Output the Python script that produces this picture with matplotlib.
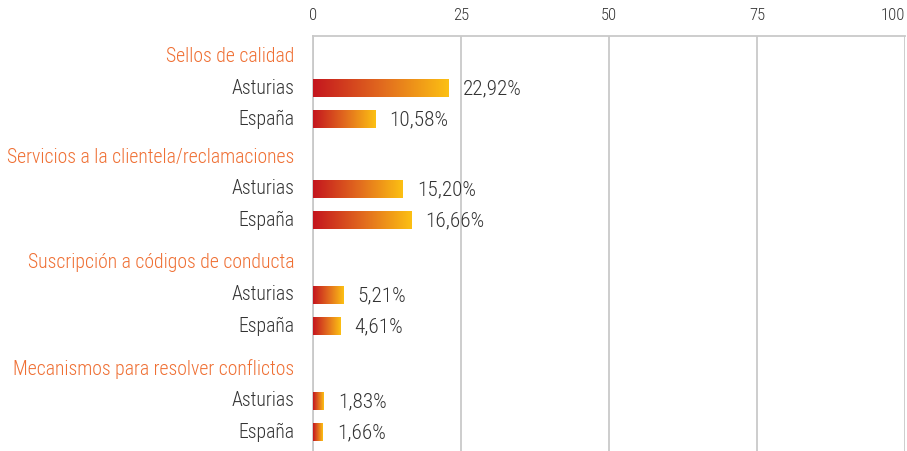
import numpy as np
import matplotlib
matplotlib.use("Agg")
import matplotlib.pyplot as plt
from matplotlib.colors import LinearSegmentedColormap

categories = [
    "Sellos de calidad",
    "Servicios a la clientela/reclamaciones",
    "Suscripción a códigos de conducta",
    "Mecanismos para resolver conflictos",
]
regions = ["Asturias", "España"]
asturias = [22.92, 15.20, 5.21, 1.83]
espana = [10.58, 16.66, 4.61, 1.66]
xticks = [0, 25, 50, 75, 100]

plt.rcParams["font.family"] = ["Roboto Condensed", "DejaVu Sans"]
plt.rcParams["font.weight"] = "light"

grey_text = "#333333"
orange_text = "#ef6f33"
grid_col = "#c9c9c9"
bar_cmap = LinearSegmentedColormap.from_list("bar", ["#c4161e", "#e1691f", "#fcc013"])

fig = plt.figure(figsize=(9.07, 4.51), dpi=100)
ax = fig.add_axes([313 / 907, 0.0, (905 - 313) / 907, (451 - 36) / 451])

# layout in pixel-like units, y grows downwards
group_top = [56, 157, 263, 369]
first_gap = 32
row_gap = 31
bar_h = 18
grad = np.linspace(0, 1, 256).reshape(1, -1)

for i, cat in enumerate(categories):
    y0 = group_top[i]
    ax.annotate(cat, xy=(0, y0), xycoords=("axes fraction", "data"),
                xytext=(-13.5, 0), textcoords="offset points",
                ha="right", va="center", fontsize=14.2, color=orange_text)
    for j, (reg, vals) in enumerate(zip(regions, [asturias, espana])):
        v = vals[i]
        yc = y0 + first_gap + j * row_gap
        ax.imshow(grad, cmap=bar_cmap, aspect="auto", interpolation="bilinear",
                  extent=(0, v, yc + bar_h / 2, yc - bar_h / 2), zorder=3)
        ax.annotate(reg, xy=(0, yc), xycoords=("axes fraction", "data"),
                    xytext=(-13.5, 0), textcoords="offset points",
                    ha="right", va="center", fontsize=14.2, color=grey_text)
        ax.annotate(f"{v:.2f}%".replace(".", ","), xy=(v, yc),
                    xytext=(10, -1), textcoords="offset points",
                    ha="left", va="center", fontsize=15.3, color=grey_text)

ax.set_xlim(0, 100)
ax.set_ylim(451, 36)
ax.set_xticks(xticks)
ax.set_yticks([])
ax.xaxis.tick_top()
ax.tick_params(axis="x", length=0, pad=9, labelsize=12, labelcolor=grey_text)
# keep the last tick label inside the figure
ax.get_xticklabels()[-1].set_horizontalalignment("right")
ax.grid(axis="x", color=grid_col, linewidth=1.3, zorder=0)
ax.set_axisbelow(True)
for side in ["bottom", "right"]:
    ax.spines[side].set_visible(False)
for side in ["top", "left"]:
    ax.spines[side].set_color(grid_col)
    ax.spines[side].set_linewidth(1.3)

fig.savefig("out.png", dpi=100)
